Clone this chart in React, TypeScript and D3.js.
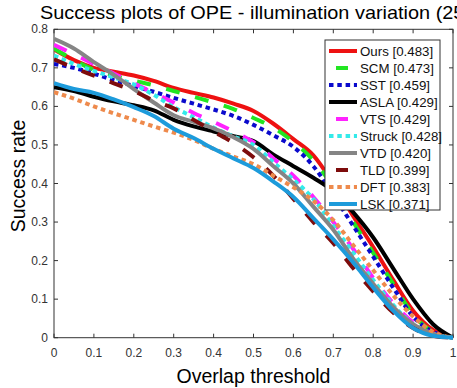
import React from "react";
import * as d3 from "d3";

const thresholds = [0, 0.05, 0.1, 0.15, 0.2, 0.25, 0.3, 0.35, 0.4, 0.45, 0.5, 0.55, 0.6, 0.65, 0.7, 0.75, 0.8, 0.85, 0.9, 0.95, 1];

const trackerNames = ["Ours", "SCM", "SST", "ASLA", "VTS", "Struck", "VTD", "TLD", "DFT", "LSK"];
const aucScores = ["0.483", "0.473", "0.459", "0.429", "0.429", "0.428", "0.420", "0.399", "0.383", "0.371"];

const oursValues = [0.748, 0.72, 0.70, 0.69, 0.68, 0.666, 0.648, 0.635, 0.623, 0.607, 0.588, 0.555, 0.515, 0.473, 0.40, 0.315, 0.235, 0.15, 0.07, 0.02, 0];
const scmValues = [0.75, 0.72, 0.695, 0.68, 0.667, 0.655, 0.64, 0.625, 0.61, 0.593, 0.57, 0.545, 0.508, 0.46, 0.39, 0.30, 0.22, 0.14, 0.06, 0.015, 0];
const sstValues = [0.71, 0.70, 0.685, 0.668, 0.653, 0.638, 0.622, 0.607, 0.592, 0.575, 0.552, 0.525, 0.495, 0.445, 0.37, 0.29, 0.21, 0.13, 0.055, 0.015, 0];
const aslaValues = [0.65, 0.64, 0.625, 0.613, 0.603, 0.59, 0.565, 0.548, 0.535, 0.523, 0.51, 0.475, 0.445, 0.415, 0.38, 0.325, 0.26, 0.18, 0.10, 0.035, 0];
const vtsValues = [0.76, 0.735, 0.71, 0.685, 0.66, 0.635, 0.61, 0.583, 0.56, 0.535, 0.507, 0.465, 0.42, 0.365, 0.30, 0.23, 0.155, 0.09, 0.04, 0.01, 0];
const struckValues = [0.732, 0.71, 0.692, 0.675, 0.657, 0.63, 0.598, 0.572, 0.545, 0.522, 0.5, 0.455, 0.41, 0.36, 0.29, 0.22, 0.15, 0.085, 0.035, 0.01, 0];
const vtdValues = [0.775, 0.75, 0.715, 0.682, 0.645, 0.61, 0.577, 0.56, 0.543, 0.52, 0.49, 0.445, 0.40, 0.34, 0.28, 0.205, 0.14, 0.08, 0.035, 0.01, 0];
const tldValues = [0.722, 0.70, 0.68, 0.66, 0.64, 0.615, 0.595, 0.565, 0.535, 0.505, 0.468, 0.42, 0.36, 0.30, 0.245, 0.18, 0.12, 0.065, 0.025, 0.005, 0];
const dftValues = [0.637, 0.62, 0.60, 0.582, 0.565, 0.548, 0.532, 0.513, 0.49, 0.47, 0.45, 0.42, 0.39, 0.355, 0.305, 0.24, 0.175, 0.11, 0.055, 0.015, 0];
const lskValues = [0.66, 0.645, 0.635, 0.618, 0.598, 0.575, 0.542, 0.518, 0.49, 0.465, 0.44, 0.405, 0.365, 0.31, 0.255, 0.195, 0.13, 0.07, 0.025, 0.005, 0];

const allValues = [oursValues, scmValues, sstValues, aslaValues, vtsValues, struckValues, vtdValues, tldValues, dftValues, lskValues];

const xTicks = [0, 0.1, 0.2, 0.3, 0.4, 0.5, 0.6, 0.7, 0.8, 0.9, 1];
const yTicks = [0, 0.1, 0.2, 0.3, 0.4, 0.5, 0.6, 0.7, 0.8];

const styles = [
  { color: "#ee1111", dash: "" },
  { color: "#22e622", dash: "14 16" },
  { color: "#0a0acc", dash: "4.5 3.8" },
  { color: "#000000", dash: "" },
  { color: "#ff22ff", dash: "14 16" },
  { color: "#33eaea", dash: "4.5 3.8" },
  { color: "#858585", dash: "" },
  { color: "#7d0c0c", dash: "14 16" },
  { color: "#ee8a4c", dash: "4.5 3.8" },
  { color: "#1d9bdb", dash: "" },
];

export default function App() {
  const W = 457, H = 388;
  const left = 54, right = 453, top = 29.3, bottom = 337.7;
  const x = d3.scaleLinear().domain([0, 1]).range([left, right]);
  const y = d3.scaleLinear().domain([0, 0.8]).range([bottom, top]);
  const line = d3
    .line<number>()
    .x((_, i) => x(thresholds[i]))
    .y((d) => y(d))
    .curve(d3.curveMonotoneX);

  const font = "Arial, 'Liberation Sans', Helvetica, sans-serif";
  const legX = 325, legY = 40, legW = 115, legH = 170;
  const rowH = 17;

  return (
    <svg width={W} height={H} style={{ position: "absolute", left: 0, top: 0, background: "#fff" }} fontFamily={font}>
      <rect x={0} y={0} width={W} height={H} fill="#fff" />
      <text x={40} y={19} fontSize={19} fill="#000" textLength={431} lengthAdjust="spacingAndGlyphs">
        Success plots of OPE - illumination variation (25)
      </text>
      <defs>
        <clipPath id="plotclip">
          <rect x={left} y={top - 2} width={right - left + 2} height={bottom - top + 4} />
        </clipPath>
      </defs>
      <rect x={left} y={top} width={right - left} height={bottom - top} fill="none" stroke="#333" strokeWidth={1} />
      {xTicks.map((t, i) => (
        <g key={"xt" + i}>
          <line x1={x(t)} x2={x(t)} y1={bottom} y2={bottom - 4} stroke="#333" />
          <line x1={x(t)} x2={x(t)} y1={top} y2={top + 4} stroke="#333" />
          <text x={x(t)} y={bottom + 19} fontSize={12} textAnchor="middle" fill="#333">
            {d3.format("")(t)}
          </text>
        </g>
      ))}
      {yTicks.map((t, i) => (
        <g key={"yt" + i}>
          <line x1={left} x2={left + 4} y1={y(t)} y2={y(t)} stroke="#333" />
          <line x1={right} x2={right - 4} y1={y(t)} y2={y(t)} stroke="#333" />
          <text x={left - 6} y={y(t) + 4} fontSize={12} textAnchor="end" fill="#333">
            {d3.format("")(t)}
          </text>
        </g>
      ))}
      <g clipPath="url(#plotclip)">
        {allValues.map((vals, i) => (
          <path
            key={"s" + i}
            d={line(vals) || ""}
            fill="none"
            stroke={styles[i].color}
            strokeWidth={4}
            strokeDasharray={styles[i].dash || undefined}
          />
        ))}
      </g>
      <text x={(left + right) / 2} y={383} fontSize={19.5} textAnchor="middle" fill="#000">
        Overlap threshold
      </text>
      <text transform={`translate(25,${176}) rotate(-90)`} fontSize={19.5} textAnchor="middle" fill="#000">
        Success rate
      </text>
      <rect x={legX} y={legY} width={legW} height={legH} fill="#fff" stroke="#333" strokeWidth={1} />
      {trackerNames.map((name, i) => {
        const cy = legY + 11 + i * rowH;
        return (
          <g key={"lg" + i}>
            <line
              x1={legX + 4}
              x2={legX + 32}
              y1={cy}
              y2={cy}
              stroke={styles[i].color}
              strokeWidth={4}
              strokeDasharray={styles[i].dash ? (styles[i].dash === "14 16" ? "0 7 12 20" : "4.5 3.8") : undefined}
            />
            <text x={legX + 35} y={cy + 4.6} fontSize={13.3} fill="#111">
              {name} [{aucScores[i]}]
            </text>
          </g>
        );
      })}
    </svg>
  );
}
